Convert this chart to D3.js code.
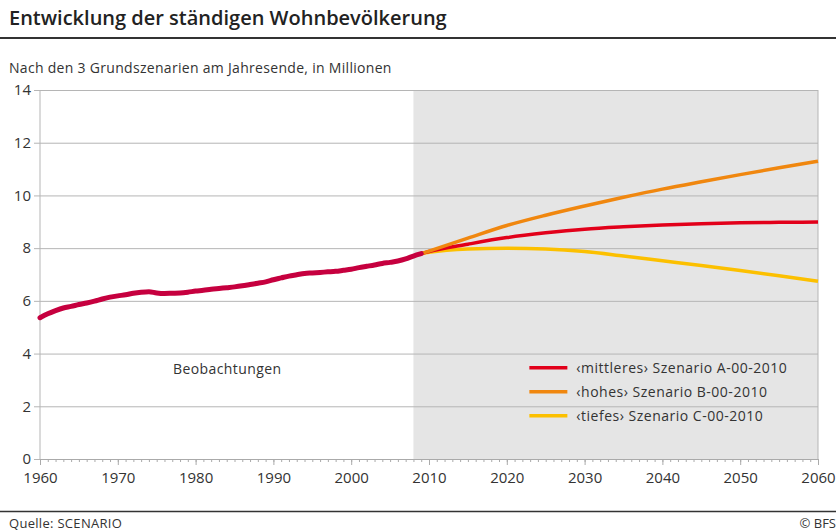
<!DOCTYPE html>
<html>
<head>
<meta charset="utf-8">
<script src="https://cdn.jsdelivr.net/npm/d3@7"></script>
<style>
  body { margin: 0; background: #fff; }
  svg { display: block; font-family: "Open Sans", sans-serif; }
</style>
</head>
<body>
<svg width="836" height="531"></svg>
<script>
// observed population 1960-2009, millions
const obsYears = d3.range(1960, 2010)
const obsValues = [5.36, 5.51, 5.63, 5.73, 5.79, 5.86, 5.92, 5.99, 6.07, 6.14,
    6.19, 6.23, 6.29, 6.33, 6.35, 6.30, 6.28, 6.29, 6.30, 6.33,
    6.37, 6.40, 6.44, 6.47, 6.50, 6.53, 6.57, 6.62, 6.67, 6.72,
    6.80, 6.87, 6.94, 6.99, 7.04, 7.06, 7.08, 7.10, 7.12, 7.16,
    7.20, 7.26, 7.31, 7.36, 7.42, 7.46, 7.51, 7.59, 7.70, 7.79]

// scenario years and values
const scenYears = [2009, 2010, 2015, 2020, 2025, 2030, 2035, 2040, 2045, 2050, 2055, 2060]
const scenA = [7.79, 7.87, 8.15, 8.40, 8.58, 8.72, 8.81, 8.88, 8.93, 8.96, 8.98, 8.99]
const scenB = [7.79, 7.89, 8.38, 8.86, 9.25, 9.60, 9.93, 10.24, 10.52, 10.79, 11.05, 11.30]
const scenC = [7.79, 7.84, 7.97, 8.00, 7.97, 7.87, 7.70, 7.52, 7.34, 7.15, 6.95, 6.74]

const scenNames = ["‹mittleres› Szenario A-00-2010", "‹hohes› Szenario B-00-2010", "‹tiefes› Szenario C-00-2010"]
const scenColors = ["#e2001a", "#f0870f", "#fcc000"]

const xTicks = d3.range(1960, 2061, 10)
const yTicks = [0, 2, 4, 6, 8, 10, 12, 14]

let margin = { top: 90, right: 18, bottom: 72, left: 40 },
    width = 836 - margin.left - margin.right,
    height = 531 - margin.top - margin.bottom

let svg = d3.select("svg")

// header
svg.append("text")
    .attr("x", 9).attr("y", 25)
    .attr("font-size", 20).attr("font-weight", 600)
    .attr("fill", "#222")
    .text("Entwicklung der ständigen Wohnbevölkerung")
svg.append("line")
    .attr("x1", 0).attr("x2", 836).attr("y1", 38).attr("y2", 38)
    .attr("stroke", "#333").attr("stroke-width", 2)
svg.append("text")
    .attr("x", 9).attr("y", 73)
    .attr("font-size", 14).attr("letter-spacing", 0.3).attr("fill", "#333")
    .text("Nach den 3 Grundszenarien am Jahresende, in Millionen")

let g = svg.append("g")
    .attr("transform", "translate(" + margin.left + "," + margin.top + ")")

let xScale = d3.scaleLinear().domain([1960, 2060]).range([0, width])
let yScale = d3.scaleLinear().domain([0, 14]).range([height, 0])

// shaded projection area
g.append("rect")
    .attr("x", xScale(2008)).attr("y", 0)
    .attr("width", xScale(2060) - xScale(2008))
    .attr("height", height)
    .attr("fill", "#e5e5e5")

// horizontal gridlines
g.append("g")
    .call(d3.axisLeft(yScale).tickValues(yTicks).tickSize(-width).tickPadding(9).tickFormat(d3.format("d")))
    .call(ax => ax.select(".domain").remove())
    .call(ax => ax.selectAll(".tick line").attr("stroke", "#b5b5b5").attr("x1", -6))
    .call(ax => ax.selectAll(".tick text").attr("font-size", 15).attr("fill", "#333")
        .attr("font-family", "Open Sans, sans-serif"))

// vertical frame lines
g.append("line").attr("x1", 0).attr("x2", 0).attr("y1", 0).attr("y2", height)
    .attr("stroke", "#b5b5b5")
g.append("line").attr("x1", width).attr("x2", width).attr("y1", 0).attr("y2", height)
    .attr("stroke", "#b5b5b5")

// minor year ticks
g.append("g")
    .attr("transform", "translate(0," + height + ")")
    .call(d3.axisBottom(xScale).tickValues(d3.range(1960, 2061)).tickSize(3).tickFormat(""))
    .call(ax => ax.select(".domain").remove())
    .call(ax => ax.selectAll(".tick line").attr("stroke", "#aaa"))

// major ticks and labels
g.append("g")
    .attr("transform", "translate(0," + height + ")")
    .call(d3.axisBottom(xScale).tickValues(xTicks).tickSize(6).tickPadding(7).tickFormat(d3.format("d")))
    .call(ax => ax.select(".domain").attr("stroke", "#aaa"))
    .call(ax => ax.selectAll(".tick line").attr("stroke", "#aaa"))
    .call(ax => ax.selectAll(".tick text").attr("font-size", 15).attr("fill", "#333")
        .attr("font-family", "Open Sans, sans-serif"))

let line = d3.line()
    .x(d => xScale(d[0]))
    .y(d => yScale(d[1]))
    .curve(d3.curveMonotoneX)

// scenario lines
let scenData = [scenA, scenB, scenC]
// draw C, A, B order so orange sits on top near start like the original
;[2, 0, 1].forEach(i => {
    g.append("path")
        .datum(scenYears.map((y, j) => [y, scenData[i][j]]))
        .attr("fill", "none")
        .attr("stroke", scenColors[i])
        .attr("stroke-width", 3.5)
        .attr("d", line)
})

// observed line
g.append("path")
    .datum(obsYears.map((y, j) => [y, obsValues[j]]))
    .attr("fill", "none")
    .attr("stroke", "#c6003f")
    .attr("stroke-width", 5)
    .attr("stroke-linecap", "round")
    .attr("d", line)

g.append("text")
    .attr("x", xScale(1977.1)).attr("y", yScale(3.22))
    .attr("font-size", 14).attr("letter-spacing", 0.4).attr("fill", "#333")
    .text("Beobachtungen")

// legend
const legends = g.append("g")
    .attr("transform", "translate(" + (xScale(2022.9)) + "," + (yScale(3.46)) + ")")

legends.selectAll("line")
    .data(scenNames)
    .enter()
    .append("line")
    .attr("x1", 0).attr("x2", 38)
    .attr("y1", (d, i) => i * 24).attr("y2", (d, i) => i * 24)
    .attr("stroke", (d, i) => scenColors[i])
    .attr("stroke-width", 3.5)

legends.selectAll("text")
    .data(scenNames)
    .enter()
    .append("text")
    .text(d => d)
    .attr("x", 47)
    .attr("y", (d, i) => i * 24 + 5)
    .attr("font-size", 14)
    .attr("letter-spacing", 0.5)
    .attr("fill", "#333")

// footer
svg.append("line")
    .attr("x1", 0).attr("x2", 836).attr("y1", 511.5).attr("y2", 511.5)
    .attr("stroke", "#333").attr("stroke-width", 1.5)
svg.append("text")
    .attr("x", 9).attr("y", 528)
    .attr("font-size", 13).attr("letter-spacing", 0.3).attr("fill", "#333")
    .text("Quelle: SCENARIO")
svg.append("text")
    .attr("x", 836).attr("y", 528)
    .attr("text-anchor", "end")
    .attr("font-size", 13).attr("fill", "#333")
    .text("© BFS")
</script>
</body>
</html>
